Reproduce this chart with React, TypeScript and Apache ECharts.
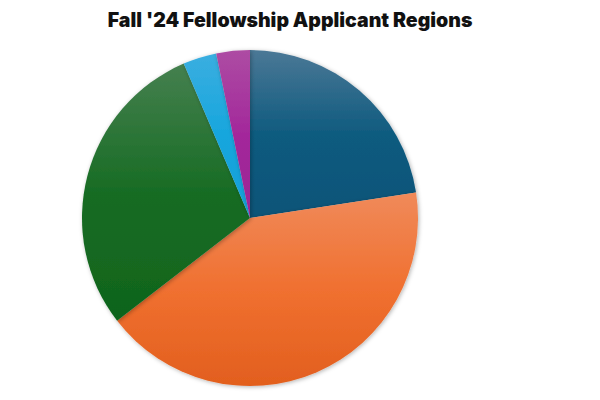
import React, { useEffect, useRef } from "react";
import * as echarts from "echarts";

const title = "Fall '24 Fellowship Applicant Regions";
const regions = ["Region 1", "Region 2", "Region 3", "Region 4", "Region 5"];
const counts = [7, 13, 9, 1, 1];
const topColors = ["#4b7896", "#f08a5a", "#45804f", "#3aaee0", "#ad4ca3"];
const midColors = ["#0f5b7f", "#f07030", "#186c24", "#17a6dd", "#a3289b"];
const bottomColors = ["#0c5478", "#e25f1e", "#0f641c", "#15a0d8", "#9c2494"];

export default function App() {
  const ref = useRef<HTMLDivElement>(null);
  useEffect(() => {
    if (!ref.current) return;
    const chart = echarts.init(ref.current, null, { renderer: "svg" });
    chart.setOption({
      animation: false,
      backgroundColor: "#ffffff",
      title: {
        text: title,
        left: 277,
        textAlign: "center",
        top: -3,
        textStyle: {
          fontFamily: "Inter",
          fontWeight: 900,
          fontSize: 19.5,
          color: "#111111",
        },
      },
      series: [
        {
          type: "pie",
          center: [242, 210],
          radius: 168,
          startAngle: 90,
          clockwise: true,
          label: { show: false },
          labelLine: { show: false },
          emphasis: { disabled: true },
          data: regions.map((name, i) => ({
            name,
            value: counts[i],
            itemStyle: {
              color: new echarts.graphic.LinearGradient(0, 0, 0, 1, [
                { offset: 0, color: topColors[i] },
                { offset: 0.5, color: midColors[i] },
                { offset: 1, color: bottomColors[i] },
              ]),
              borderWidth: 0,
              shadowBlur: 4,
              shadowColor: "rgba(0,0,0,0.3)",
              shadowOffsetX: 1,
              shadowOffsetY: 1,
            },
          })),
        },
      ],
    });
    return () => chart.dispose();
  }, []);
  return <div ref={ref} style={{ width: 584, height: 384 }} />;
}
